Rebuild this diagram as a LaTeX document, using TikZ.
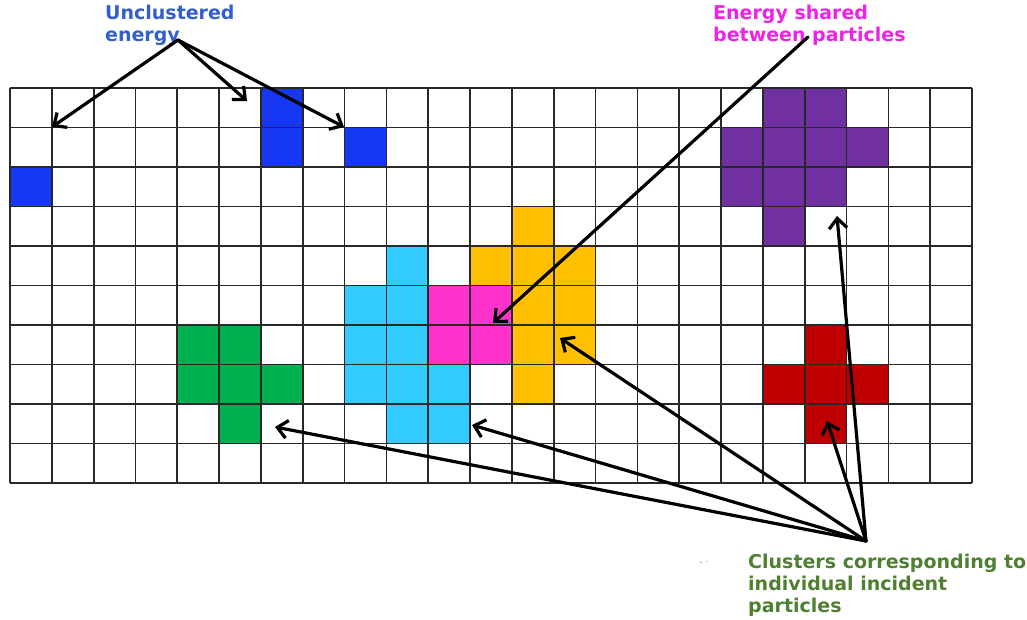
\documentclass[tikz,border=0pt]{standalone}
\usepackage{fontspec}
\setmainfont{DejaVu Sans}
\usetikzlibrary{arrows.meta}
\definecolor{cblue}{RGB}{22,56,245}
\definecolor{cpurple}{RGB}{112,48,160}
\definecolor{corange}{RGB}{255,192,0}
\definecolor{ccyan}{RGB}{51,204,255}
\definecolor{cmag}{RGB}{255,51,204}
\definecolor{cgreen}{RGB}{0,176,80}
\definecolor{cred}{RGB}{192,0,0}
\definecolor{tblue}{RGB}{50,95,205}
\definecolor{tmag}{RGB}{238,34,232}
\definecolor{tgreen}{RGB}{78,128,48}
\definecolor{gridc}{RGB}{40,40,40}
\tikzset{
  gridline/.style={draw=gridc, line width=1.7pt},
  lbl/.style={anchor=north west, inner sep=0pt, align=left, font=\fontsize{19}{22}\selectfont\bfseries},
  arr/.style={draw=black, line width=3.2pt, line cap=round, -{Straight Barb[length=10pt,width=18pt,line width=3.2pt]}},
}
\begin{document}
\begin{tikzpicture}[x=1pt,y=-1pt]
\useasboundingbox[fill=white] (0,0) rectangle (1027,620);
\def\cw{41.826}
\def\ch{39.5}
% coloured cells
\foreach \c/\r/\col in {
  6/0/cblue, 6/1/cblue, 8/1/cblue, 0/2/cblue,
  18/0/cpurple, 19/0/cpurple, 17/1/cpurple, 18/1/cpurple, 19/1/cpurple, 20/1/cpurple,
  17/2/cpurple, 18/2/cpurple, 19/2/cpurple, 18/3/cpurple,
  12/3/corange, 11/4/corange, 12/4/corange, 13/4/corange, 12/5/corange, 13/5/corange,
  12/6/corange, 13/6/corange, 12/7/corange,
  9/4/ccyan, 8/5/ccyan, 9/5/ccyan, 8/6/ccyan, 9/6/ccyan, 8/7/ccyan, 9/7/ccyan, 10/7/ccyan,
  9/8/ccyan, 10/8/ccyan,
  10/5/cmag, 11/5/cmag, 10/6/cmag, 11/6/cmag,
  4/6/cgreen, 5/6/cgreen, 4/7/cgreen, 5/7/cgreen, 6/7/cgreen, 5/8/cgreen,
  19/6/cred, 18/7/cred, 19/7/cred, 20/7/cred, 19/8/cred}
  \fill[\col] ({10+\c*\cw},{88+\r*\ch}) rectangle ++(\cw,\ch);
% grid
\foreach \i in {0,...,23}
  \draw[gridline] ({10+\i*\cw},88) -- ({10+\i*\cw},483);
\foreach \j in {0,...,10}
  \draw[gridline] (10,{88+\j*\ch}) -- (972,{88+\j*\ch});
% labels
\node[lbl, text=tblue] (lu) at (105,5) {Unclustered\\energy};
\node[lbl, text=tmag] (ls) at (713,5) {Energy shared\\between particles};
\node[lbl, text=tgreen] (lc) at (748,554) {Clusters corresponding to\\individual incident\\particles};
\node[anchor=west, inner sep=0pt, text=gray!80, font=\fontsize{10}{10}\selectfont] (dots) at (699,563) {- ·};
% connector end points
\coordinate (us) at (178,40);
\coordinate (u1) at (52,127);
\coordinate (u2) at (247,101);
\coordinate (u3) at (344,127);
\coordinate (ss) at (808,37);
\coordinate (s1) at (493,323);
\coordinate (cs) at (866,541);
\coordinate (c1) at (275,427);
\coordinate (c2) at (472,425);
\coordinate (c3) at (560,338);
\coordinate (c4) at (827,421);
\coordinate (c5) at (837,216);
% connectors
\draw[arr] (us) -- (u1);
\draw[arr] (us) -- (u2);
\draw[arr] (us) -- (u3);
\draw[arr] (ss) -- (s1);
\draw[arr] (cs) -- (c1);
\draw[arr] (cs) -- (c2);
\draw[arr] (cs) -- (c3);
\draw[arr] (cs) -- (c4);
\draw[arr] (cs) -- (c5);
\end{tikzpicture}
\end{document}
